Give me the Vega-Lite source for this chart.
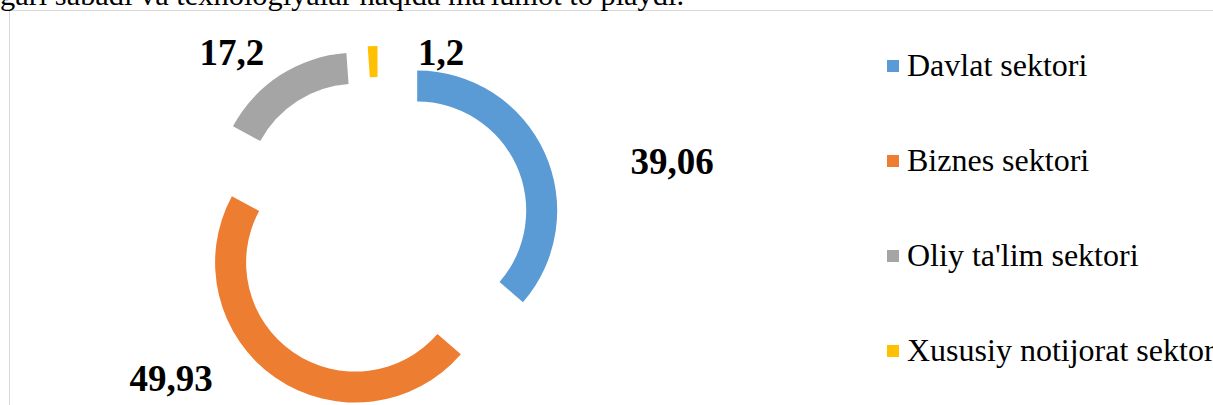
{
  "$schema": "https://vega.github.io/schema/vega-lite/v6.json",
  "width": 1204,
  "height": 395,
  "autosize": "none",
  "padding": {"left": 9, "top": 10, "right": 0, "bottom": 0},
  "background": "white",
  "view": {"stroke": "#d9d9d9", "strokeWidth": 1},
  "title": {
    "text": "gari sabadi va texnologiyalar haqida ma'lumot to playdi.",
    "anchor": "start",
    "frame": "group",
    "orient": "top",
    "offset": -25,
    "baseline": "alphabetic",
    "dx": -9,
    "font": "Liberation Serif",
    "fontSize": 30.4,
    "fontWeight": "normal",
    "color": "#000000"
  },
  "config": {
    "font": "Liberation Serif",
    "locale": {"number": {"decimal": ",", "thousands": " ", "grouping": [3], "currency": ["", ""]}}
  },
  "data": {
    "values": [
      {"sector": "Davlat sektori", "value": 39.06},
      {"sector": "Biznes sektori", "value": 49.93},
      {"sector": "Oliy ta'lim sektori", "value": 17.2},
      {"sector": "Xususiy notijorat sektori", "value": 1.2}
    ]
  },
  "transform": [{"stack": "value", "groupby": [], "as": ["v0", "v1"]}],
  "layer": [
    {
      "transform": [{"filter": "datum.sector === 'Davlat sektori'"}],
      "mark": {"type": "arc", "outerRadius": 140, "innerRadius": 109, "xOffset": -193.8, "yOffset": 3.1},
      "encoding": {
        "theta": {"field": "v0", "type": "quantitative"},
        "theta2": {"field": "v1"},
        "color": {
          "field": "sector", "type": "nominal",
          "scale": {"domain": ["Davlat sektori", "Biznes sektori", "Oliy ta'lim sektori", "Xususiy notijorat sektori"], "range": ["#5B9BD5", "#ED7D31", "#A5A5A5", "#FFC000"]},
          "legend": {"orient": "none", "legendX": 868, "legendY": 40, "title": null, "symbolType": "square", "symbolSize": 144, "symbolStrokeWidth": 0, "symbolOpacity": 1, "labelFontSize": 32, "labelFont": "Liberation Serif", "labelColor": "#000000", "rowPadding": 63, "labelOffset": -2, "labelLimit": 500, "padding": 0}
        }
      }
    },
    {
      "transform": [{"filter": "datum.sector === 'Biznes sektori'"}],
      "mark": {"type": "arc", "outerRadius": 140, "innerRadius": 109, "xOffset": -255.9, "yOffset": 55.1},
      "encoding": {
        "theta": {"field": "v0", "type": "quantitative"},
        "theta2": {"field": "v1"},
        "color": {"field": "sector", "type": "nominal"}
      }
    },
    {
      "transform": [{"filter": "datum.sector === \"Oliy ta'lim sektori\""}],
      "mark": {"type": "arc", "outerRadius": 140, "innerRadius": 109, "xOffset": -254.8, "yOffset": -14.8},
      "encoding": {
        "theta": {"field": "v0", "type": "quantitative"},
        "theta2": {"field": "v1"},
        "color": {"field": "sector", "type": "nominal"}
      }
    },
    {
      "transform": [{"filter": "datum.sector === 'Xususiy notijorat sektori'"}],
      "mark": {"type": "arc", "outerRadius": 140, "innerRadius": 109, "xOffset": -233.5, "yOffset": -21.5},
      "encoding": {
        "theta": {"field": "v0", "type": "quantitative"},
        "theta2": {"field": "v1"},
        "color": {"field": "sector", "type": "nominal"}
      }
    },
    {
      "transform": [{"filter": "datum.sector === 'Davlat sektori'"}],
      "mark": {"type": "text", "radius": 0, "xOffset": -232, "yOffset": 20.5, "dx": 293, "dy": -54, "align": "center", "baseline": "alphabetic", "font": "Liberation Serif", "fontSize": 37, "fontWeight": "bold", "color": "#000000"},
      "encoding": {
        "theta": {"field": "v1", "type": "quantitative"},
        "text": {"field": "value", "type": "quantitative", "format": ""}
      }
    },
    {
      "transform": [{"filter": "datum.sector === 'Biznes sektori'"}],
      "mark": {"type": "text", "radius": 0, "xOffset": -232, "yOffset": 20.5, "dx": -208, "dy": 163, "align": "center", "baseline": "alphabetic", "font": "Liberation Serif", "fontSize": 37, "fontWeight": "bold", "color": "#000000"},
      "encoding": {
        "theta": {"field": "v1", "type": "quantitative"},
        "text": {"field": "value", "type": "quantitative", "format": ""}
      }
    },
    {
      "transform": [{"filter": "datum.sector === \"Oliy ta'lim sektori\""}],
      "mark": {"type": "text", "radius": 173, "xOffset": -232, "yOffset": 20.5, "dx": -134.9, "dy": 9.5, "align": "center", "baseline": "alphabetic", "font": "Liberation Serif", "fontSize": 37, "fontWeight": "bold", "color": "#000000"},
      "encoding": {
        "theta": {"field": "v1", "type": "quantitative"},
        "text": {"field": "value", "type": "quantitative", "format": ""}
      }
    },
    {
      "transform": [{"filter": "datum.sector === 'Xususiy notijorat sektori'"}],
      "mark": {"type": "text", "radius": 163, "xOffset": -232, "yOffset": 20.5, "dx": 62, "dy": 0, "align": "center", "baseline": "alphabetic", "font": "Liberation Serif", "fontSize": 37, "fontWeight": "bold", "color": "#000000"},
      "encoding": {
        "theta": {"field": "v1", "type": "quantitative"},
        "text": {"field": "value", "type": "quantitative", "format": ""}
      }
    }
  ]
}
